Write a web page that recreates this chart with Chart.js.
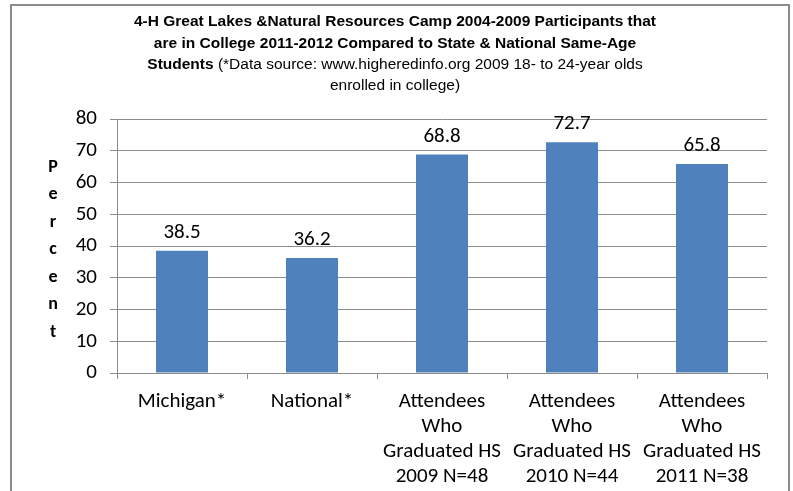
<!DOCTYPE html>
<html>
<head>
<meta charset="utf-8">
<script src="https://cdn.jsdelivr.net/npm/chart.js@4"></script>
<style>
  html, body { margin: 0; padding: 0; background: #fff; }
  #wrap { width: 793px; height: 491px; position: relative; }
</style>
</head>
<body>
<div id="wrap"><canvas id="chart" width="793" height="491"></canvas></div>
<script>
const categories = [
  ["Michigan*"],
  ["National*"],
  ["Attendees", "Who", "Graduated HS", "2009 N=48"],
  ["Attendees", "Who", "Graduated HS", "2010 N=44"],
  ["Attendees", "Who", "Graduated HS", "2011 N=38"]
]
const percents = [38.5, 36.2, 68.8, 72.7, 65.8]
const yTicks = [0, 10, 20, 30, 40, 50, 60, 70, 80]
const titleLines = [
  [["4-H Great Lakes &Natural Resources Camp 2004-2009 Participants that", true]],
  [["are in College 2011-2012 Compared to State & National Same-Age", true]],
  [["Students", true], [" (*Data source: www.higheredinfo.org 2009 18- to 24-year olds", false]],
  [["enrolled in college)", false]]
]
const axisTitle = "Percent"

const bodyFont = 'Carlito, "Open Sans", "Liberation Sans", sans-serif'
const titleFont = '"Liberation Sans", Arial, sans-serif'

// frame + title + stacked axis title
const decor = {
  id: "decor",
  beforeDraw(chart) {
    const ctx = chart.ctx
    ctx.save()
    ctx.fillStyle = "#fff"
    ctx.fillRect(0, 0, chart.width, chart.height)
    ctx.strokeStyle = "#8c8c8c"
    ctx.lineWidth = 2
    ctx.strokeRect(11, 5, 778, 520)

    ctx.fillStyle = "#000"
    ctx.textBaseline = "middle"
    const lineY = [22, 44, 65, 86]
    titleLines.forEach((parts, i) => {
      let total = 0
      parts.forEach(([t, b]) => {
        ctx.font = (b ? "bold " : "") + "15.5px " + titleFont
        total += ctx.measureText(t).width
      })
      let x = 395 - total / 2
      ctx.textAlign = "left"
      parts.forEach(([t, b]) => {
        ctx.font = (b ? "bold " : "") + "15.5px " + titleFont
        ctx.fillText(t, x, lineY[i])
        x += ctx.measureText(t).width
      })
    })

    ctx.font = "bold 18px " + bodyFont
    ctx.textAlign = "center"
    axisTitle.split("").forEach((ch, i) => {
      ctx.fillText(ch, 53, 167 + i * 27.5)
    })
    ctx.restore()
  }
}

const valueLabels = {
  id: "valueLabels",
  afterDatasetsDraw(chart) {
    const ctx = chart.ctx
    const meta = chart.getDatasetMeta(0)
    ctx.save()
    ctx.font = "21px " + bodyFont
    ctx.fillStyle = "#000"
    ctx.textAlign = "center"
    ctx.textBaseline = "alphabetic"
    meta.data.forEach((bar, i) => {
      ctx.fillText(percents[i].toFixed(1), bar.x, bar.y - 13)
    })
    ctx.restore()
  }
}

new Chart(document.getElementById("chart"), {
  type: "bar",
  data: {
    labels: categories,
    datasets: [{
      data: percents,
      backgroundColor: "#4f81bd",
      borderWidth: 0,
      barPercentage: 0.4,
      categoryPercentage: 1
    }]
  },
  options: {
    responsive: false,
    animation: false,
    layout: { padding: { top: 119, right: 26, left: 0, bottom: 0 } },
    plugins: {
      legend: { display: false },
      tooltip: { enabled: false },
      title: { display: false }
    },
    scales: {
      x: {
        afterFit(s) { s.height = 118 },
        border: { color: "#8c8c8c", width: 1 },
        grid: {
          offset: true,
          drawOnChartArea: false,
          drawTicks: true,
          tickLength: 6,
          color: "#8c8c8c"
        },
        ticks: {
          color: "#000",
          font: { family: bodyFont, size: 21, lineHeight: 1.19 },
          padding: 10,
          maxRotation: 0,
          autoSkip: false
        }
      },
      y: {
        min: 0,
        max: 80,
        afterFit(s) { s.width = 117 },
        afterBuildTicks(s) { s.ticks = yTicks.map(v => ({ value: v })) },
        border: { color: "#8c8c8c", width: 1 },
        grid: {
          color: "#8c8c8c",
          drawTicks: true,
          tickLength: 7
        },
        ticks: {
          color: "#000",
          font: { family: bodyFont, size: 21 },
          padding: 13
        }
      }
    }
  },
  plugins: [decor, valueLabels]
})
</script>
</body>
</html>
